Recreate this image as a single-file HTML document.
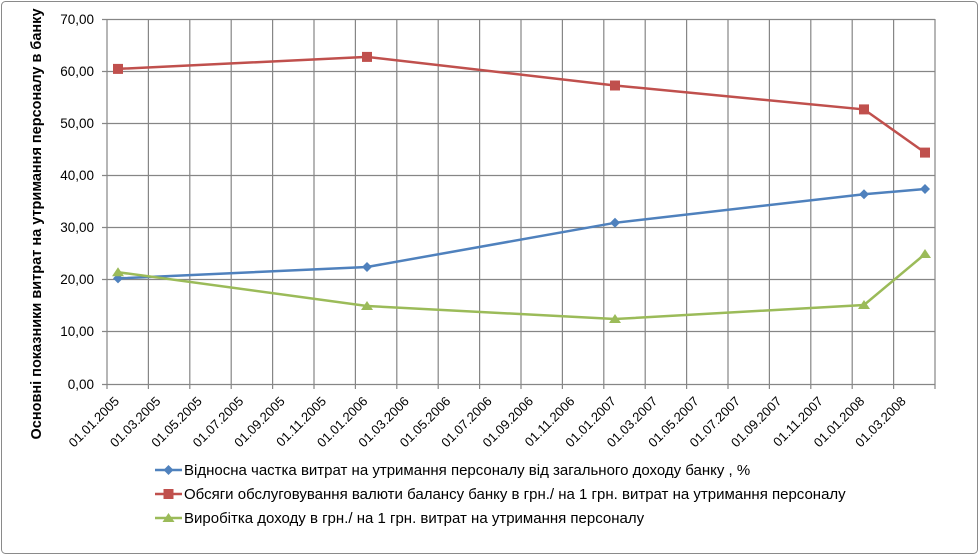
<!DOCTYPE html>
<html><head><meta charset="utf-8"><style>
html,body{margin:0;padding:0;background:#fff}
svg{display:block;font-family:"Liberation Sans",sans-serif}
</style></head><body>
<svg width="980" height="556" xmlns="http://www.w3.org/2000/svg">
<rect x="1.5" y="1.5" width="976" height="552" rx="4" fill="#fff" stroke="#8a8a8a" stroke-width="1"/>
<g stroke="#868686" stroke-width="1.2" fill="none">
<path d="M107 19.5H935M107 71.5H935M107 123.5H935M107 175.5H935M107 227.5H935M107 279.5H935M107 331.5H935"/>
<path d="M148.4 19V384M189.8 19V384M231.2 19V384M272.6 19V384M314 19V384M355.4 19V384M396.8 19V384M438.2 19V384M479.6 19V384M521 19V384M562.4 19V384M603.8 19V384M645.2 19V384M686.6 19V384M728 19V384M769.4 19V384M810.8 19V384M852.2 19V384M893.6 19V384M935 19V389"/>
<path d="M107 384.5H935M107 19V389M102 19.5H107M102 71.5H107M102 123.5H107M102 175.5H107M102 227.5H107M102 279.5H107M102 331.5H107M102 384.5H107"/>
<path d="M148.4 384V389M189.8 384V389M231.2 384V389M272.6 384V389M314 384V389M355.4 384V389M396.8 384V389M438.2 384V389M479.6 384V389M521 384V389M562.4 384V389M603.8 384V389M645.2 384V389M686.6 384V389M728 384V389M769.4 384V389M810.8 384V389M852.2 384V389M893.6 384V389"/>
</g>
<g font-size="13.5" text-anchor="end" fill="#000">
<text x="94" y="24">70,00</text><text x="94" y="76">60,00</text><text x="94" y="128">50,00</text><text x="94" y="180">40,00</text><text x="94" y="232">30,00</text><text x="94" y="284">20,00</text><text x="94" y="336">10,00</text><text x="94" y="389">0,00</text>
</g>
<g font-size="13" text-anchor="end" fill="#000">
<text transform="translate(120,402) rotate(-45)">01.01.2005</text>
<text transform="translate(161.4,402) rotate(-45)">01.03.2005</text>
<text transform="translate(202.8,402) rotate(-45)">01.05.2005</text>
<text transform="translate(244.2,402) rotate(-45)">01.07.2005</text>
<text transform="translate(285.6,402) rotate(-45)">01.09.2005</text>
<text transform="translate(327,402) rotate(-45)">01.11.2005</text>
<text transform="translate(368.4,402) rotate(-45)">01.01.2006</text>
<text transform="translate(409.8,402) rotate(-45)">01.03.2006</text>
<text transform="translate(451.2,402) rotate(-45)">01.05.2006</text>
<text transform="translate(492.6,402) rotate(-45)">01.07.2006</text>
<text transform="translate(534,402) rotate(-45)">01.09.2006</text>
<text transform="translate(575.4,402) rotate(-45)">01.11.2006</text>
<text transform="translate(616.8,402) rotate(-45)">01.01.2007</text>
<text transform="translate(658.2,402) rotate(-45)">01.03.2007</text>
<text transform="translate(699.6,402) rotate(-45)">01.05.2007</text>
<text transform="translate(741,402) rotate(-45)">01.07.2007</text>
<text transform="translate(782.4,402) rotate(-45)">01.09.2007</text>
<text transform="translate(823.8,402) rotate(-45)">01.11.2007</text>
<text transform="translate(865.2,402) rotate(-45)">01.01.2008</text>
<text transform="translate(906.6,402) rotate(-45)">01.03.2008</text>
</g>
<text transform="translate(41,224) rotate(-90)" font-size="14.5" font-weight="bold" text-anchor="middle">Основні показники витрат на утримання персоналу в банку</text>
<polyline points="118,68.9 367,56.9 615,85.5 864,109.4 925,152.6" fill="none" stroke="#c0504d" stroke-width="2.5"/>
<polyline points="118,278.4 367,267 615,222.8 864,194.2 925,189" fill="none" stroke="#4f81bd" stroke-width="2.5"/>
<polyline points="118,272.2 367,306 615,319 864,305 925,254" fill="none" stroke="#9bbb59" stroke-width="2.5"/>
<g fill="#c0504d">
<rect x="113" y="63.9" width="10" height="10"/><rect x="362" y="51.9" width="10" height="10"/><rect x="610" y="80.5" width="10" height="10"/><rect x="859" y="104.4" width="10" height="10"/><rect x="920" y="147.6" width="10" height="10"/>
</g>
<g fill="#4f81bd">
<path d="M118 273.4l5 5-5 5-5-5z"/><path d="M367 262l5 5-5 5-5-5z"/><path d="M615 217.8l5 5-5 5-5-5z"/><path d="M864 189.2l5 5-5 5-5-5z"/><path d="M925 184l5 5-5 5-5-5z"/>
</g>
<g fill="#9bbb59">
<path d="M118 267.2l6 9h-12z"/><path d="M367 301l6 9h-12z"/><path d="M615 314l6 9h-12z"/><path d="M864 300l6 9h-12z"/><path d="M925 249l6 9h-12z"/>
</g>
<line x1="155" y1="470" x2="182" y2="470" stroke="#4f81bd" stroke-width="2.5"/>
<path d="M168.5 465l5 5-5 5-5-5z" fill="#4f81bd"/>
<line x1="155" y1="494" x2="182" y2="494" stroke="#c0504d" stroke-width="2.5"/>
<rect x="163.5" y="489" width="10" height="10" fill="#c0504d"/>
<line x1="155" y1="518" x2="182" y2="518" stroke="#9bbb59" stroke-width="2.5"/>
<path d="M168.5 513l6 9h-12z" fill="#9bbb59"/>
<g font-size="15" fill="#000">
<text x="184" y="475">Відносна частка витрат на утримання персоналу від загального доходу банку , %</text>
<text x="184" y="499">Обсяги обслуговування валюти балансу банку в грн./ на 1 грн. витрат на утримання персоналу</text>
<text x="184" y="523">Виробітка доходу в грн./ на 1 грн. витрат на утримання персоналу</text>
</g>
</svg>
</body></html>
